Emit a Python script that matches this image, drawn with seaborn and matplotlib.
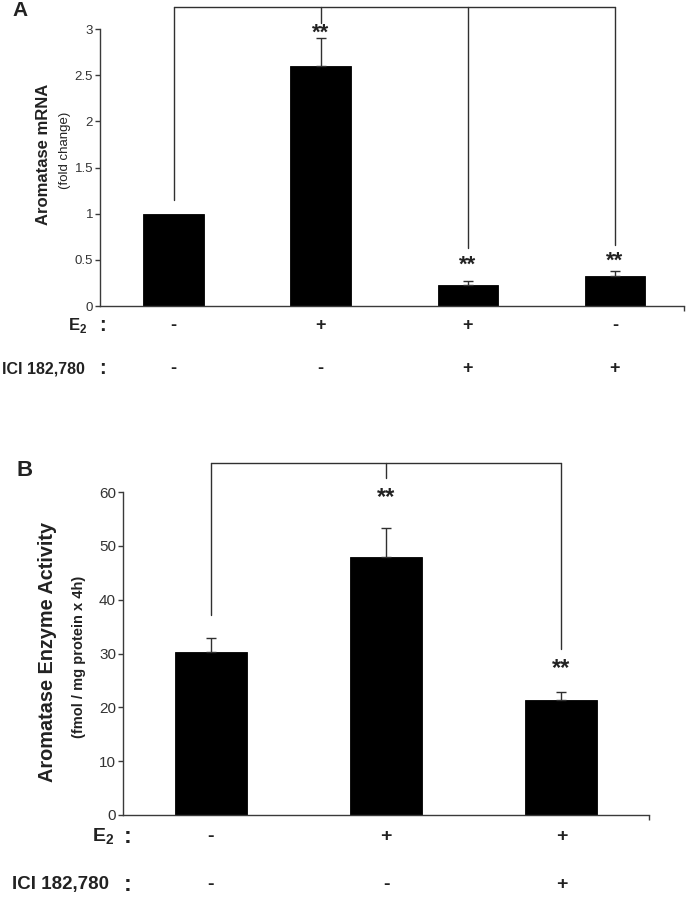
import matplotlib
matplotlib.use("Agg")
import matplotlib.pyplot as plt
import seaborn as sns
import pandas as pd
from matplotlib.ticker import FormatStrFormatter
from matplotlib.transforms import blended_transform_factory

# Panel A: aromatase mRNA (fold change)
a_conditions = ["Control", "E2", "E2 + ICI", "ICI"]
a_mrna = [1.0, 2.6, 0.23, 0.33]
a_err = [0.0, 0.3, 0.04, 0.05]
a_e2 = ["-", "+", "+", "-"]
a_ici = ["-", "-", "+", "+"]
a_stars = ["", "**", "**", "**"]

# Panel B: aromatase enzyme activity
b_conditions = ["Control", "E2", "E2 + ICI"]
b_activity = [30.2, 47.9, 21.4]
b_err = [2.7, 5.5, 1.5]
b_e2 = ["-", "+", "+"]
b_ici = ["-", "-", "+"]
b_stars = ["", "**", "**"]

sns.set_style("ticks")
plt.rcParams['font.family'] = ['Liberation Sans', 'DejaVu Sans']
plt.rcParams['mathtext.fontset'] = 'custom'
plt.rcParams['mathtext.rm'] = 'Liberation Sans'
plt.rcParams['mathtext.bf'] = 'Liberation Sans:bold'

axis_col = '#3a3a3a'
line_col = '#303030'
text_col = '#222222'

fig = plt.figure(figsize=(6.86, 9.0), dpi=100)
ax_a = fig.add_axes([100 / 686, 1 - 306 / 900, 584 / 686, 277 / 900])
ax_b = fig.add_axes([123 / 686, 1 - 815 / 900, 526 / 686, 323 / 900])


def draw_panel(ax, conds, vals, errs, e2, ici, xmax, ymax, ystep,
               tick_fs, row_fs, sign_fs, row_y, label_x, colon_x):
    df = pd.DataFrame({'cond': conds, 'val': vals})
    sns.barplot(data=df, x='cond', y='val', color='black', width=0.41,
                edgecolor='black', linewidth=0.6, errorbar=None, ax=ax,
                saturation=1)
    x = list(range(len(conds)))
    idx = [i for i in x if errs[i] > 0]
    ax.errorbar(idx, [vals[i] for i in idx],
                yerr=[[0] * len(idx), [errs[i] for i in idx]],
                fmt='none', ecolor=line_col, elinewidth=1.0, capsize=3.5, capthick=1.0)
    ax.set_xlim(-0.5, xmax)
    ax.set_ylim(0, ymax)
    ax.set_yticks([ystep * k for k in range(int(round(ymax / ystep)) + 1)])
    ax.set_xticks([xmax])
    ax.set_xticklabels([''])
    ax.set_xlabel('')
    ax.set_ylabel('')
    sns.despine(ax=ax)
    for s in ['left', 'bottom']:
        ax.spines[s].set_color(axis_col)
        ax.spines[s].set_linewidth(1.0)
    ax.tick_params(axis='both', length=3.5, width=1.0, color=axis_col,
                   labelsize=tick_fs, labelcolor='#333333', pad=1.5)

    # treatment rows under the bars
    tr = blended_transform_factory(ax.transData, ax.transAxes)
    tra = ax.transAxes
    for i in x:
        ax.text(i, row_y[0], e2[i], transform=tr, ha='center', va='center',
                fontsize=sign_fs, fontweight='bold', color=text_col)
        ax.text(i, row_y[1], ici[i], transform=tr, ha='center', va='center',
                fontsize=sign_fs, fontweight='bold', color=text_col)
    ax.text(label_x[0], row_y[0], r'E$_\mathbf{2}$', transform=tra, ha='right',
            va='center', fontsize=row_fs + 0.5, fontweight='bold', color=text_col)
    ax.text(label_x[1], row_y[1], 'ICI 182,780', transform=tra, ha='right',
            va='center', fontsize=row_fs, fontweight='bold', color=text_col)
    for r in row_y:
        ax.text(colon_x, r, ':', transform=tra, ha='center', va='center',
                fontsize=row_fs + 3, fontweight='bold', color=text_col)
    return x


def draw_brackets(ax, top, ends, star_y, stars, star_fs):
    ax.plot([0, len(ends) - 1], [top, top], color=line_col, lw=1.0, clip_on=False)
    for i, yb in enumerate(ends):
        ax.plot([i, i], [yb, top], color=line_col, lw=1.0, clip_on=False)
    for i, s in enumerate(stars):
        if s:
            ax.text(i, star_y[i], s, ha='center', va='center', fontsize=star_fs,
                    fontweight='bold', color=text_col, clip_on=False)


# ---- Panel A
draw_panel(ax_a, a_conditions, a_mrna, a_err, a_e2, a_ici,
           3.47, 3, 0.5, 9.5, 11.5, 13,
           (-0.07, -0.227), (-0.022, -0.026), 0.004)
ax_a.yaxis.set_major_formatter(FormatStrFormatter('%g'))
draw_brackets(ax_a, 3.24, [1.15, 3.07, 0.63, 0.66], [0, 2.955, 0.445, 0.485],
              a_stars, 16)

fig.text(20 / 686, 1 - 10 / 900, 'A', ha='center', va='center',
         fontsize=15, fontweight='bold', color=text_col)
fig.text(44 / 686, 1 - 154 / 900, 'Aromatase mRNA', rotation=90, ha='center',
         va='center', fontsize=12, fontweight='bold', color=text_col)
fig.text(65 / 686, 1 - 150 / 900, '(fold change)', rotation=90, ha='center',
         va='center', fontsize=9.5, color=text_col)

# ---- Panel B
draw_panel(ax_b, b_conditions, b_activity, b_err, b_e2, b_ici,
           2.5, 60, 10, 11, 13.5, 14,
           (-0.068, -0.214), (-0.017, -0.027), 0.008)
draw_brackets(ax_b, 65.4, [37.2, 62.6, 30.9], [0, 59.0, 27.3], b_stars, 17)

fig.text(25 / 686, 1 - 470 / 900, 'B', ha='center', va='center',
         fontsize=16, fontweight='bold', color=text_col)
fig.text(48 / 686, 1 - 652 / 900, 'Aromatase Enzyme Activity', rotation=90,
         ha='center', va='center', fontsize=14.3, fontweight='bold', color=text_col)
fig.text(79 / 686, 1 - 657 / 900, '(fmol / mg protein x 4h)', rotation=90,
         ha='center', va='center', fontsize=10.5, fontweight='bold', color=text_col)

fig.savefig('out.png', dpi=100)
